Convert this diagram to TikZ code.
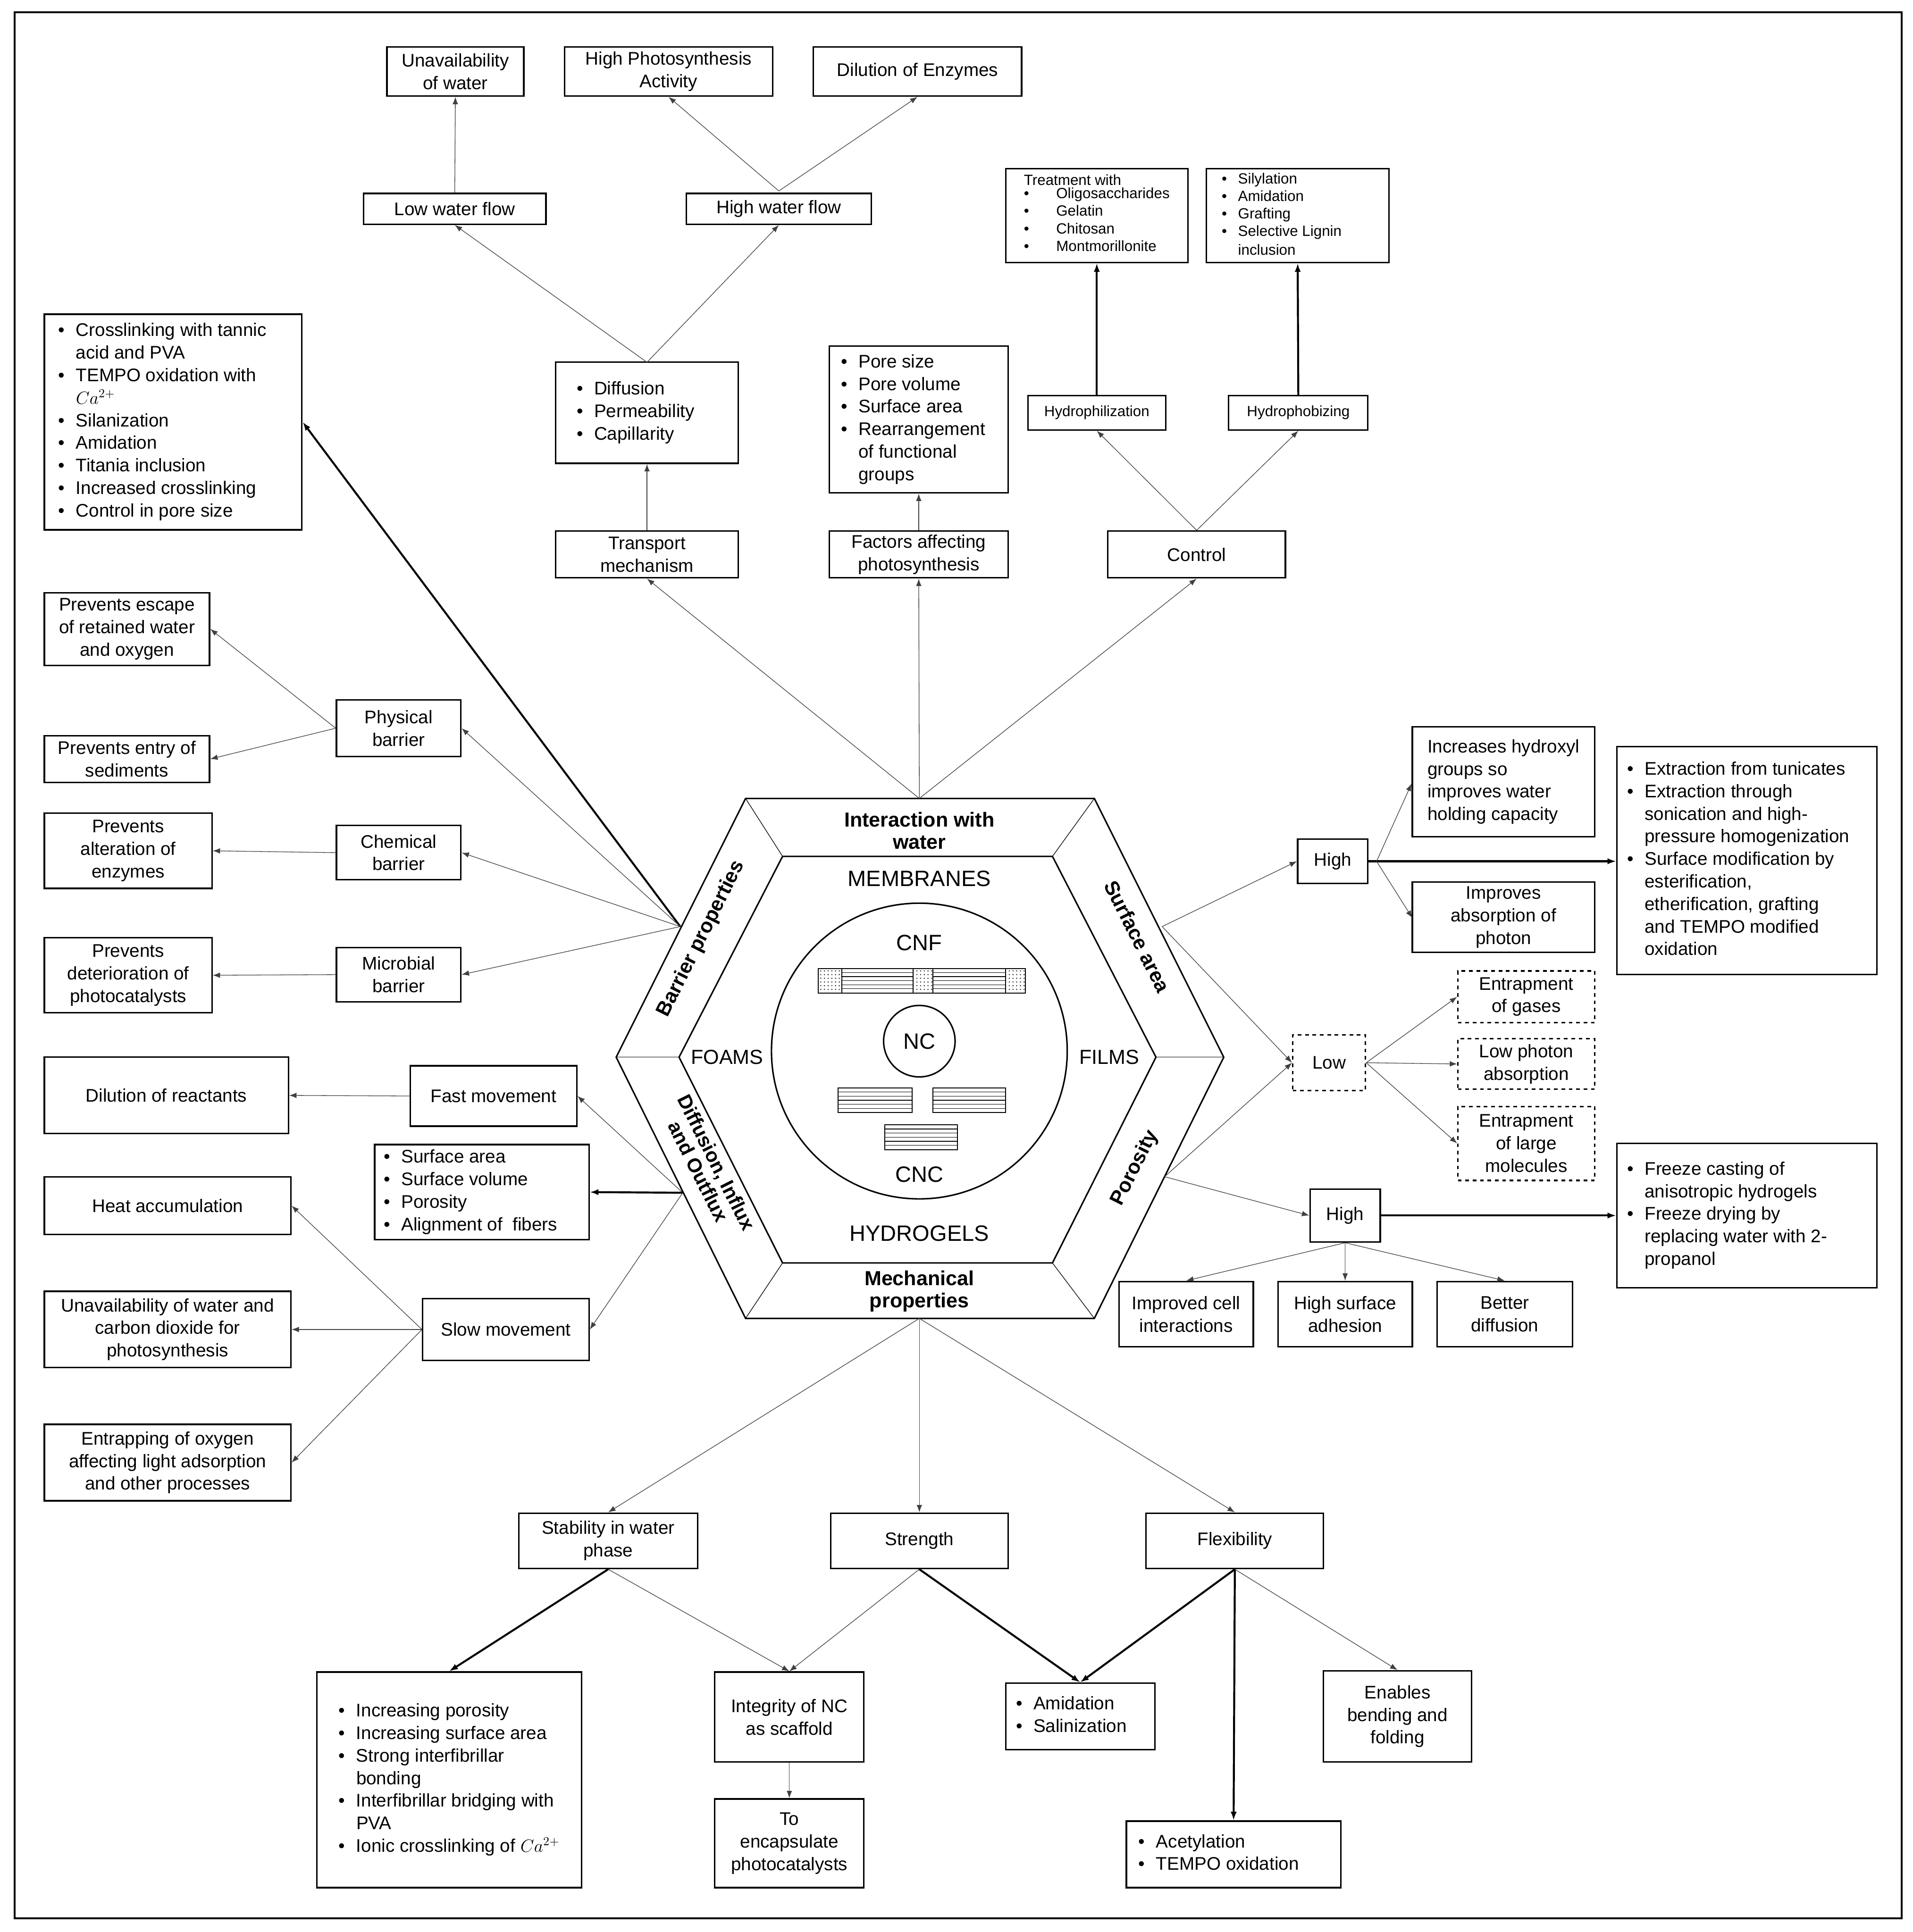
\documentclass[tikz,border=0pt]{standalone}
\usepackage{fontspec}
\setmainfont{Liberation Sans}
\usepackage{array}
\usetikzlibrary{arrows.meta,patterns}
\newcommand\fs{\fontsize{14.8}{18.3}\selectfont}
\newcommand\fss{\fontsize{12}{15.2}\selectfont}
\newcommand\bx[7][]{\node[box,minimum width={#5-#3},minimum height={#6-#4},#1] (#2) at ({(#3+#5)/2},{(#4+#6)/2}) {#7};}
\newenvironment{bl}[1]{\begin{tabular}{@{}l@{\hspace{9pt}}>{\raggedright\arraybackslash}p{#1}@{}}}{\end{tabular}}
\begin{document}
\begin{tikzpicture}[x=1pt,y=-1pt,
  box/.style={draw,line width=1.2pt,inner sep=2pt,align=center,font=\fs},
  dbox/.style={box,dashed},
  thin/.style={draw=black!75,line width=0.5pt,-{Latex[length=6pt,width=4.5pt]}},
  thk/.style={draw=black,line width=1.6pt,-{Latex[length=7pt,width=5pt]}},
  hl/.style={font=\fontsize{16.5}{18}\selectfont\bfseries,align=center}]
\useasboundingbox (0,0) rectangle (1552,1568);
\draw[line width=1.6pt] (12,10) rectangle (1543,1557);
% ---------- hexagon
\coordinate (o1) at (605,648); \coordinate (o2) at (888,648); \coordinate (o3) at (993,858);
\coordinate (o4) at (888,1070); \coordinate (o5) at (605,1070); \coordinate (o6) at (500,858);
\coordinate (i1) at (635,695); \coordinate (i2) at (854,695); \coordinate (i3) at (938,858);
\coordinate (i4) at (854,1025); \coordinate (i5) at (635,1025); \coordinate (i6) at (551,858);
\draw[line width=1.2pt] (o1)--(o2)--(o3)--(o4)--(o5)--(o6)--cycle;
\draw[line width=1.2pt] (i1)--(i2)--(i3)--(i4)--(i5)--(i6)--cycle;
\foreach \k in {1,...,6} \draw[line width=0.5pt] (o\k)--(i\k);
\node[hl] (hI) at (746,674) {Interaction with\\water};
\node[hl] (hM) at (746,1048) {Mechanical\\properties};
\node[hl,rotate=63.4] (hB) at (569,762) {Barrier properties};
\node[hl,rotate=-63.4] (hS) at (923,760) {Surface area};
\node[hl,rotate=63.4] (hP) at (921,948) {Porosity};
\node[hl,rotate=-63.4,font=\fontsize{16}{16.5}\selectfont\bfseries] (hD) at (574,947) {Diffusion, Influx\\and Outflux};
\node[font=\fontsize{18}{20}\selectfont] (mem) at (746,713) {MEMBRANES};
\node[font=\fontsize{18}{20}\selectfont] (hyd) at (746,1001) {HYDROGELS};
\node[font=\fontsize{16.5}{20}\selectfont] (foa) at (590,858) {FOAMS};
\node[font=\fontsize{16.5}{20}\selectfont] (fil) at (900,858) {FILMS};
\node[draw,circle,line width=1.2pt,minimum size=240pt] (ell) at (746,853) {};
\node[draw,circle,line width=1.2pt,minimum size=58pt,inner sep=0,font=\fontsize{18}{20}\selectfont] (nc) at (746,845) {NC};
\node[font=\fontsize{18}{20}\selectfont] (cnf) at (746,765) {CNF};
\node[font=\fontsize{18}{20}\selectfont] (cnc) at (746,953) {CNC};
\foreach \a/\b in {664/683,741/757,816/832} \draw[line width=0.7pt,pattern=dots] (\a,786) rectangle (\b,806);
\foreach \a/\b/\c in {683/741/786,757/816/786,680/740/883,757/816/883,718/777/913}{
  \draw[line width=0.8pt] (\a,\c) rectangle (\b,\c+20);
  \foreach \t in {3.3,6.6,...,17} \draw[line width=0.5pt] (\a,\c+\t)--(\b,\c+\t);}
% ---------- hexagon connection points
\coordinate (pT) at (746,648); \coordinate (pB) at (746,1070);
\coordinate (pBar) at (552,752); \coordinate (pDif) at (554,968);
\coordinate (pSur) at (943,752); \coordinate (pPor) at (945,955);
% ---------- top
\bx{unav}{314}{38}{425}{78}{Unavailability\\of water}
\bx{hphoto}{458}{38}{627}{78}{High Photosynthesis\\Activity}
\bx{dilenz}{660}{38}{829}{78}{Dilution of Enzymes}
\bx{lowf}{295}{157}{443}{182}{Low water flow}
\bx{highf}{557}{157}{707}{182}{High water flow}
\bx[align=left]{diff}{451}{294}{599}{376}{\begin{bl}{100pt}\textbullet&Diffusion\\\textbullet&Permeability\\\textbullet&Capillarity\end{bl}}
\bx{trans}{451}{431}{599}{469}{Transport\\mechanism}
\bx[align=left]{pore}{673}{281}{818}{400}{\begin{bl}{112pt}\textbullet&Pore size\\\textbullet&Pore volume\\\textbullet&Surface area\\\textbullet&Rearrangement of functional groups\end{bl}}
\bx{fact}{673}{431}{818}{469}{Factors affecting\\photosynthesis}
\bx[align=left,font=\fss,inner sep=1pt]{treat}{816}{137}{964}{213}{Treatment with\\[-1pt]\begin{tabular}{@{}l@{\hspace{22pt}}l@{}}\textbullet&Oligosaccharides\\[-1pt]\textbullet&Gelatin\\[-1pt]\textbullet&Chitosan\\[-1pt]\textbullet&Montmorillonite\end{tabular}}
\bx[align=left,font=\fss,inner sep=1pt]{silyl}{979}{137}{1127}{213}{\begin{tabular}{@{}l@{\hspace{9pt}}>{\raggedright\arraybackslash}p{110pt}@{}}\textbullet&Silylation\\[-1pt]\textbullet&Amidation\\[-1pt]\textbullet&Grafting\\[-1pt]\textbullet&Selective Lignin inclusion\end{tabular}}
\bx[font=\fss]{hphil}{834}{321}{946}{349}{Hydrophilization}
\bx[font=\fss]{hphob}{997}{321}{1110}{349}{Hydrophobizing}
\bx{ctrl}{899}{431}{1043}{469}{Control}
\draw[thin] (lowf.north)--(unav.south);
\coordinate (hfT) at (632,155);
\draw[thin] (hfT)--(hphoto.south); \draw[thin] (hfT)--(dilenz.south);
\coordinate (dfT) at (525,294);
\draw[thin] (dfT)--(lowf.south); \draw[thin] (dfT)--(highf.south);
\draw[thin] (trans.north)--(diff.south);
\draw[thin] (fact.north)--(pore.south);
\draw[thin] (pT)--(trans.south); \draw[thin] (pT)--(fact.south); \draw[thin] (pT)--(ctrl.south);
\draw[thin] (ctrl.north)--(hphil.south); \draw[thin] (ctrl.north)--(hphob.south);
\draw[thk] (hphil.north)--(treat.south); \draw[thk] (hphob.north)--(silyl.south);
% ---------- left
\bx[align=left]{cross}{36}{255}{245}{430}{\begin{bl}{172pt}\textbullet&Crosslinking with tannic acid and PVA\\\textbullet&TEMPO oxidation with $Ca^{2+}$\\\textbullet&Silanization\\\textbullet&Amidation\\\textbullet&Titania inclusion\\\textbullet&Increased crosslinking\\\textbullet&Control in pore size\end{bl}}
\bx{esc}{36}{481}{170}{540}{Prevents escape\\of retained water\\and oxygen}
\bx{entry}{36}{597}{170}{635}{Prevents entry of\\sediments}
\bx{phys}{273}{568}{374}{614}{Physical\\barrier}
\bx{alt}{36}{660}{172}{721}{Prevents\\alteration of\\enzymes}
\bx{chem}{273}{670}{374}{714}{Chemical\\barrier}
\bx{det}{36}{761}{172}{822}{Prevents\\deterioration of\\photocatalysts}
\bx{micro}{273}{769}{374}{813}{Microbial\\barrier}
\draw[thk] (pBar)--(cross.east);
\draw[thin] (pBar)--(phys.east); \draw[thin] (pBar)--(chem.east); \draw[thin] (pBar)--(micro.east);
\draw[thin] (phys.west)--(esc.east); \draw[thin] (phys.west)--(entry.east);
\draw[thin] (chem.west)--(alt.east); \draw[thin] (micro.west)--(det.east);
\bx{dilr}{36}{858}{234}{920}{Dilution of reactants}
\bx{fast}{333}{865}{468}{914}{Fast movement}
\bx[align=left]{surf}{304}{930}{478}{1005}{\begin{bl}{145pt}\textbullet&Surface area\\\textbullet&Surface volume\\\textbullet&Porosity\\\textbullet&Alignment of \ fibers\end{bl}}
\bx{heat}{36}{955}{236}{1002}{Heat accumulation}
\bx{unwc}{36}{1048}{236}{1110}{Unavailability of water and\\carbon dioxide for\\photosynthesis}
\bx{slow}{343}{1054}{478}{1104}{Slow movement}
\bx{entr}{36}{1156}{236}{1218}{Entrapping of oxygen\\affecting light adsorption\\and other processes}
\draw[thin] (pDif)--(fast.east); \draw[thk] (pDif)--(surf.east); \draw[thin] (pDif)--(slow.east);
\draw[thin] (fast.west)--(dilr.east);
\draw[thin] (slow.west)--(heat.east); \draw[thin] (slow.west)--(unwc.east); \draw[thin] (slow.west)--(entr.east);
% ---------- right
\bx{hi1}{1053}{681}{1110}{717}{High}
\bx[align=left]{hydx}{1146}{590}{1294}{679}{Increases hydroxyl\\groups so\\improves water\\holding capacity}
\bx{abs}{1146}{716}{1294}{773}{Improves\\absorption of\\photon}
\bx[align=left]{ext}{1312}{606}{1523}{791}{\begin{bl}{180pt}\textbullet&Extraction from tunicates\\\textbullet&Extraction through\newline sonication and high-\newline pressure homogenization\\\textbullet&Surface modification by\newline esterification,\newline etherification, grafting\newline and TEMPO modified\newline oxidation\end{bl}}
\bx[dbox]{low}{1049}{840}{1108}{885}{Low}
\bx[dbox]{gas}{1183}{788}{1294}{830}{Entrapment\\of gases}
\bx[dbox]{lph}{1183}{843}{1294}{884}{Low photon\\absorption}
\bx[dbox]{large}{1183}{898}{1294}{958}{Entrapment\\of large\\molecules}
\bx{hi2}{1063}{965}{1120}{1008}{High}
\bx[align=left]{frz}{1312}{928}{1523}{1045}{\begin{bl}{180pt}\textbullet&Freeze casting of\newline anisotropic hydrogels\\\textbullet&Freeze drying by\newline replacing water with 2-\newline propanol\end{bl}}
\bx{impc}{908}{1040}{1017}{1093}{Improved cell\\interactions}
\bx{adh}{1037}{1040}{1146}{1093}{High surface\\adhesion}
\bx{bdif}{1166}{1040}{1276}{1093}{Better\\diffusion}
\draw[thin] (pSur)--(hi1.west); \draw[thin] (pSur)--(low.west);
\draw[thin] (pPor)--(low.west); \draw[thin] (pPor)--(hi2.west);
\draw[thk] (hi1.east)--(ext.west|-hi1.east);
\coordinate (h1r) at (1117,699);
\draw[thin] (h1r)--(hydx.west|-1146,636); \draw[thin] (h1r)--(1146,745);
\draw[thin] (low.east)--(gas.west); \draw[thin] (low.east)--(lph.west); \draw[thin] (low.east)--(large.west);
\draw[thk] (hi2.east)--(frz.west|-hi2.east);
\draw[thin] (hi2.south)--(impc.north); \draw[thin] (hi2.south)--(adh.north); \draw[thin] (hi2.south)--(bdif.north);
% ---------- bottom
\bx{stab}{421}{1228}{566}{1273}{Stability in water\\phase}
\bx{str}{674}{1228}{818}{1273}{Strength}
\bx{flex}{930}{1228}{1074}{1273}{Flexibility}
\bx[align=left]{incp}{257}{1357}{472}{1532}{\begin{bl}{165pt}\textbullet&Increasing porosity\\\textbullet&Increasing surface area\\\textbullet&Strong interfibrillar bonding\\\textbullet&Interfibrillar bridging with PVA\\\textbullet&Ionic crosslinking of $Ca^{2+}$\end{bl}}
\bx{integ}{580}{1357}{701}{1430}{Integrity of NC\\as scaffold}
\bx{encap}{580}{1460}{701}{1532}{To\\encapsulate\\photocatalysts}
\bx[align=left]{amid}{816}{1366}{937}{1420}{\begin{bl}{90pt}\textbullet&Amidation\\\textbullet&Salinization\end{bl}}
\bx{enab}{1074}{1356}{1194}{1430}{Enables\\bending and\\folding}
\bx[align=left]{acet}{914}{1478}{1088}{1532}{\begin{bl}{140pt}\textbullet&Acetylation\\\textbullet&TEMPO oxidation\end{bl}}
\draw[thin] (pB)--(stab.north); \draw[thin] (pB)--(str.north); \draw[thin] (pB)--(flex.north);
\draw[thk] (stab.south)--(incp.north); \draw[thin] (stab.south)--(integ.north);
\draw[thin] (str.south)--(integ.north); \draw[thk] (str.south)--(amid.north);
\draw[thk] (flex.south)--(amid.north); \draw[thk] (flex.south)--(acet.north); \draw[thin] (flex.south)--(enab.north);
\draw[thin] (integ.south)--(encap.north);
\end{tikzpicture}
\end{document}
